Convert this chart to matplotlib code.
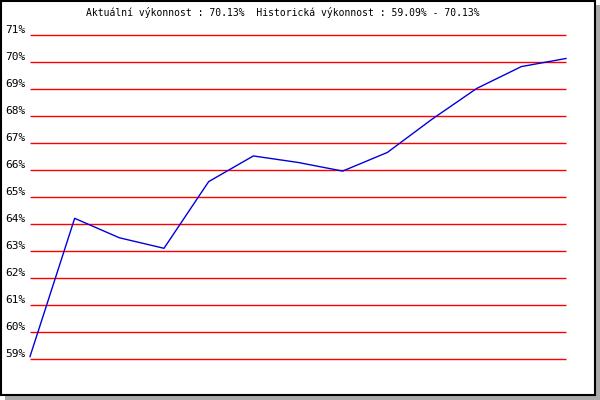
import matplotlib.pyplot as plt
from matplotlib.patches import Rectangle

# performance history (%)
values = [59.09, 64.21, 63.49, 63.10, 65.57, 66.52, 66.28, 65.96, 66.65, 67.88, 69.02, 69.83, 70.13]
y_ticks = list(range(59, 72))
y_labels = ['%d%%' % t for t in y_ticks]
title = 'Aktuální výkonnost : 70.13%  Historická výkonnost : 59.09% - 70.13%'

W, H = 600, 400
fig = plt.figure(figsize=(W / 100, H / 100), dpi=100)
fig.patch.set_facecolor('white')

# frame with grey drop shadow
fig.patches.append(Rectangle((5 / W, 0), 595 / W, 5 / H, transform=fig.transFigure,
                             facecolor='#aaaaaa', edgecolor='none'))
fig.patches.append(Rectangle((596 / W, 0), 4 / W, 395 / H, transform=fig.transFigure,
                             facecolor='#aaaaaa', edgecolor='none'))
fig.patches.append(Rectangle((1 / W, 5 / H), 594 / W, 394 / H, transform=fig.transFigure,
                             facecolor='white', edgecolor='black', linewidth=1.5))

ax = fig.add_axes([30 / W, 1 - 359 / H, 536 / W, 324 / H])
ax.set_zorder(5)
ax.set_facecolor('none')
ax.set_xlim(0, len(values) - 1)
ax.set_ylim(59, 71)
for s in ax.spines.values():
    s.set_visible(False)

ax.hlines(y_ticks, 0, len(values) - 1, colors='red', linewidth=1.0, clip_on=False)
ax.plot(range(len(values)), values, color='#0000dd', linewidth=1.0, clip_on=False)

ax.set_xticks([])
ax.set_yticks(y_ticks, y_labels)
ax.tick_params(axis='y', length=0, pad=3, labelsize=8)
for lab in ax.get_yticklabels():
    lab.set_family('DejaVu Sans Mono')
    lab.set_verticalalignment('bottom')

fig.text(283 / W, 1 - 13 / H, title, ha='center', va='center',
         family='DejaVu Sans Mono', fontsize=7, color='black', zorder=6)

fig.savefig('out.png', dpi=100)
